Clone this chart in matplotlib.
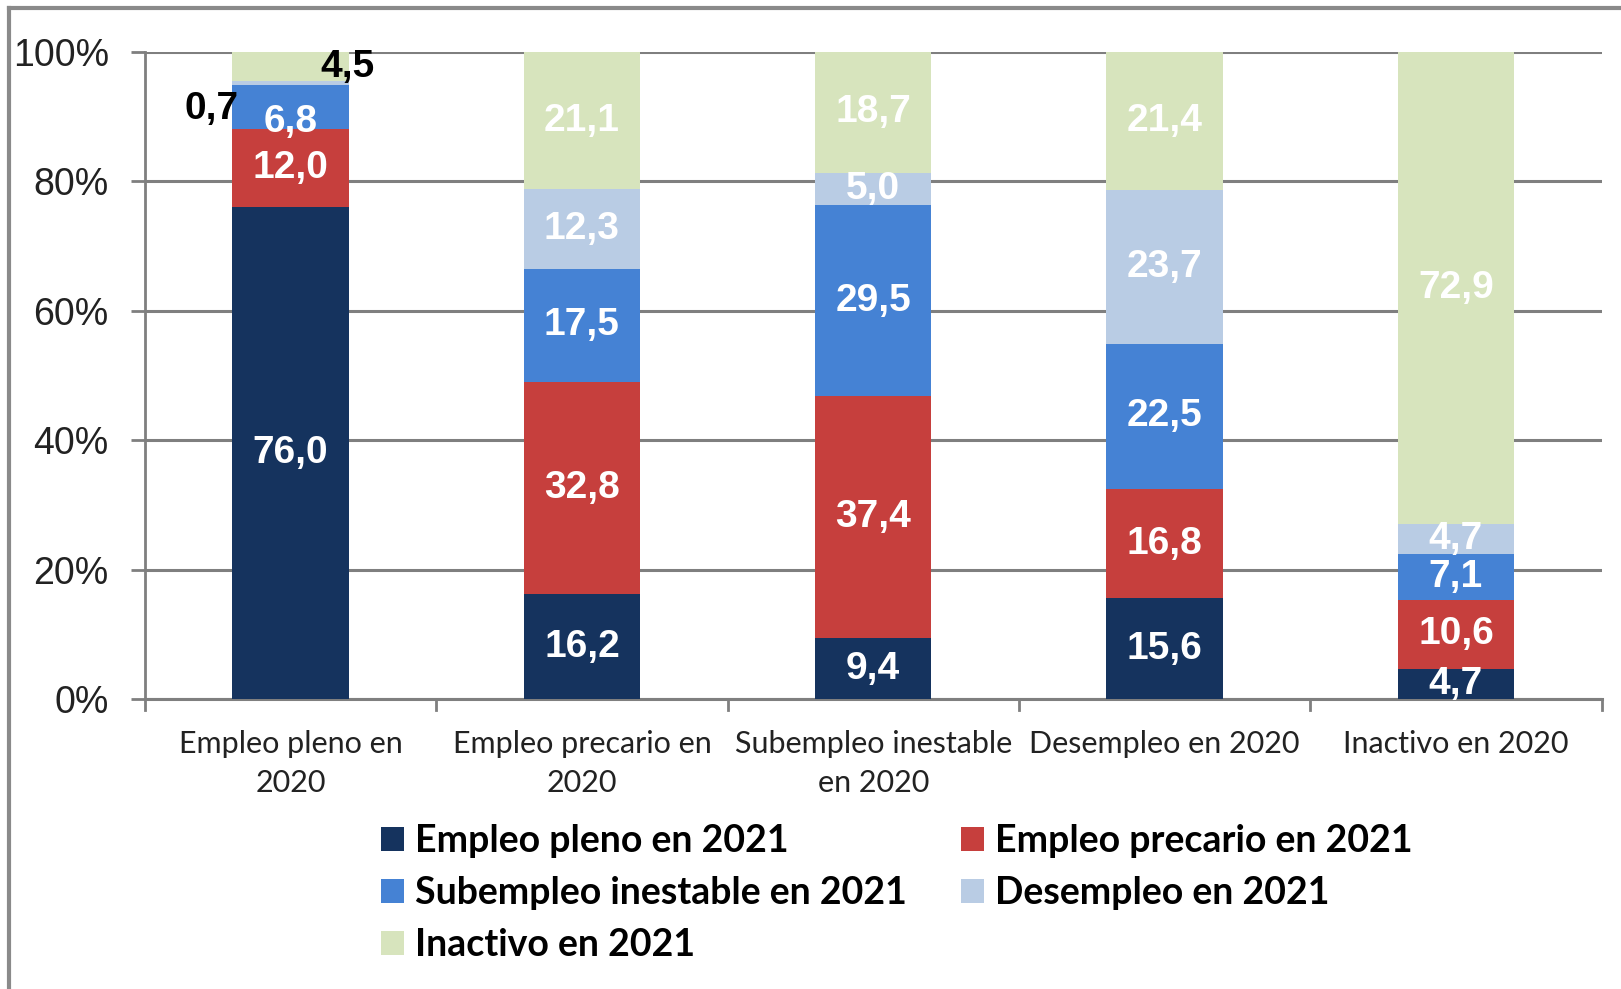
import matplotlib
matplotlib.use("Agg")
import matplotlib.pyplot as plt
from matplotlib.lines import Line2D
from matplotlib.patches import Patch
import numpy as np

categories = ["Empleo pleno en\n2020", "Empleo precario en\n2020", "Subempleo inestable\nen 2020",
              "Desempleo en 2020", "Inactivo en 2020"]
series_names = ["Empleo pleno en 2021", "Empleo precario en 2021", "Subempleo inestable en 2021",
                "Desempleo en 2021", "Inactivo en 2021"]
empleo_pleno = [76.0, 16.2, 9.4, 15.6, 4.7]
empleo_precario = [12.0, 32.8, 37.4, 16.8, 10.6]
subempleo = [6.8, 17.5, 29.5, 22.5, 7.1]
desempleo = [0.7, 12.3, 5.0, 23.7, 4.7]
inactivo = [4.5, 21.1, 18.7, 21.4, 72.9]
yticks = [0, 20, 40, 60, 80, 100]
ytick_labels = ["0%", "20%", "40%", "60%", "80%", "100%"]

series = [empleo_pleno, empleo_precario, subempleo, desempleo, inactivo]
colors = ["#15335e", "#c63f3d", "#4582d4", "#b9cce4", "#d7e4bd"]

fig = plt.figure(figsize=(16.21, 9.89), dpi=100)
ax = fig.add_axes([0.0894, 0.2932, 0.8986, 0.6545])

LABEL_FS = 28
x = np.arange(len(categories))
width = 0.40
bottom = np.zeros(len(categories))
for vals, col in zip(series, colors):
    vals = np.array(vals)
    ax.bar(x, vals, width, bottom=bottom, color=col, zorder=3)
    for i, (v, b) in enumerate(zip(vals, bottom)):
        if col == colors[3] and i == 0:
            ax.text(i - 0.27, 91.2, "0,7", ha="center", va="center", fontsize=LABEL_FS,
                    fontweight="bold", color="black", family="Liberation Sans", zorder=5)
        elif col == colors[4] and i == 0:
            ax.text(i + 0.195, 97.6, "4,5", ha="center", va="center", fontsize=LABEL_FS,
                    fontweight="bold", color="black", family="Liberation Sans", zorder=5)
        else:
            yy = b + v / 2
            if i == 0 and col == colors[2]:
                yy -= 2.2
            ax.text(i, yy, f"{v:.1f}".replace(".", ","), ha="center", va="center",
                    fontsize=LABEL_FS, fontweight="bold", color="white", family="Liberation Sans",
                    zorder=5, clip_on=False)
    bottom = bottom + vals

ax.set_xlim(-0.5, 4.5)
ax.set_ylim(0, 100)
ax.set_yticks(yticks)
ax.set_yticklabels(ytick_labels, fontsize=27, family="Liberation Sans", color="#222222")
ax.yaxis.grid(True, color="#7f7f7f", linewidth=2.2, zorder=1)
ax.tick_params(axis="y", length=10, width=2, color="#7f7f7f", pad=16)
ax.set_xticks(x)
ax.set_xticklabels(categories, fontsize=22, family="Lato", color="#222222", linespacing=1.5)
ax.tick_params(axis="x", length=0, pad=22)
# boundary tick marks
for b in np.arange(-0.5, 5.0, 1.0):
    ax.plot([b, b], [0, -1.7], color="#7f7f7f", lw=2, clip_on=False, zorder=4)

for s in ["top", "right"]:
    ax.spines[s].set_visible(False)
ax.spines["left"].set_color("#7f7f7f")
ax.spines["left"].set_linewidth(2)
ax.spines["bottom"].set_color("#7f7f7f")
ax.spines["bottom"].set_linewidth(2.2)

handles = [Patch(facecolor=c, edgecolor="none") for c in colors]
order = [0, 2, 4, 1, 3]
leg = fig.legend([handles[i] for i in order], [series_names[i] for i in order],
                 loc="upper left", bbox_to_anchor=(0.226, 0.182), ncol=2, frameon=False,
                 prop={"family": "Lato", "weight": "bold", "size": 27},
                 handlelength=0.6, handleheight=0.6, handletextpad=0.3,
                 columnspacing=1.45, labelspacing=0.48, borderaxespad=0)

# outer border (left and top)
fig.add_artist(Line2D([0.0055, 0.0055], [0.0, 0.992], color="#8a8a8a", lw=3, transform=fig.transFigure))
fig.add_artist(Line2D([0.0055, 1.0], [0.992, 0.992], color="#8a8a8a", lw=3, transform=fig.transFigure))

fig.savefig("out.png", dpi=100)
